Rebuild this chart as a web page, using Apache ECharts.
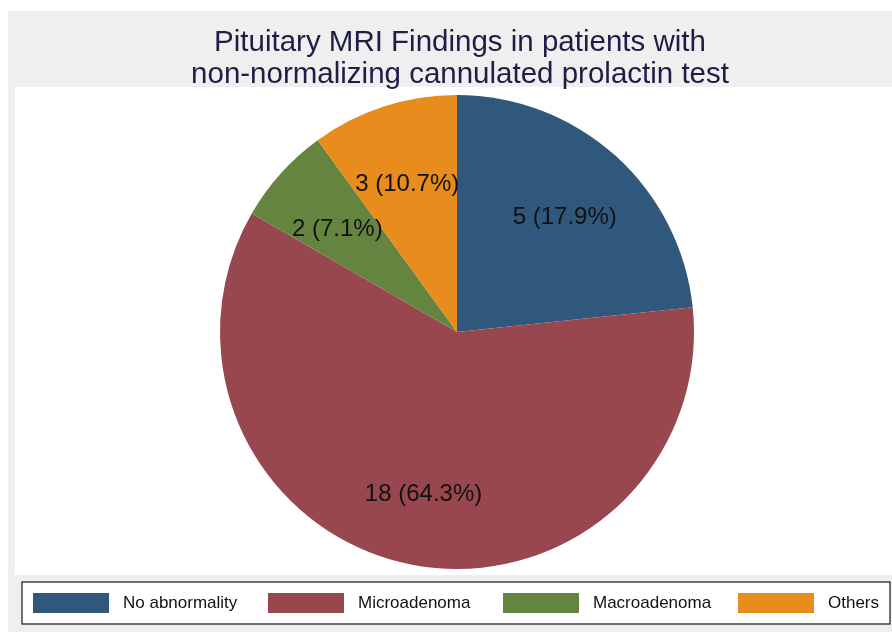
<!DOCTYPE html>
<html>
<head>
<meta charset="utf-8">
<script src="https://cdn.jsdelivr.net/npm/echarts@6/dist/echarts.min.js"></script>
<style>
  html, body { margin: 0; padding: 0; background: #fff; }
  #chart { width: 892px; height: 632px; }
</style>
</head>
<body>
<div id="chart"></div>
<script>
var categories = ['No abnormality', 'Microadenoma', 'Macroadenoma', 'Others'];
// slice sizes as drawn in the picture (angles 84/216/24/36 deg)
var sliceValues = [7, 18, 2, 3];
// numbers printed on the slices
var labelCounts = [5, 18, 2, 3];
var labelPercents = ['17.9', '64.3', '7.1', '10.7'];
var colors = ['#30587d', '#98474e', '#65843f', '#e88c1d'];
var legendLeft = [33, 268, 503, 738];

var chartDom = document.getElementById('chart');
var myChart = echarts.init(chartDom);

var pieData = categories.map(function (c, i) {
    return { name: c, value: sliceValues[i], itemStyle: { color: colors[i] } };
});
var labelData = categories.map(function (c, i) {
    return { name: c, value: sliceValues[i] };
});

// one legend per entry so the columns are evenly spaced like the original
var legends = categories.map(function (c, i) {
    return {
        data: [c],
        left: legendLeft[i],
        top: 593,
        padding: 0,
        itemWidth: 76,
        itemHeight: 20,
        icon: 'rect',
        selectedMode: false,
        textStyle: {
            fontFamily: 'Liberation Sans',
            fontSize: 17,
            color: '#111',
            padding: [0, 0, 0, 9]
        }
    };
});

var option = {
    backgroundColor: '#fff',
    animation: false,
    graphic: [
        // grey outer panel
        { type: 'rect', z: -10, shape: { x: 8, y: 11, width: 884, height: 621 }, style: { fill: '#efefef' } },
        // white plot region
        { type: 'rect', z: -9, shape: { x: 15, y: 87, width: 877, height: 488 }, style: { fill: '#ffffff' } },
        // legend frame
        { type: 'rect', z: -8, shape: { x: 22, y: 582, width: 868, height: 42 }, style: { fill: '#ffffff', stroke: '#444', lineWidth: 1.5 } }
    ],
    title: {
        text: 'Pituitary MRI Findings in patients with\nnon-normalizing cannulated prolactin test',
        left: 455,
        top: 22,
        textAlign: 'center',
        textStyle: {
            fontFamily: 'Liberation Sans',
            fontSize: 29.5,
            fontWeight: 'normal',
            lineHeight: 32,
            color: '#1e1e45'
        }
    },
    legend: legends,
    series: [
        {
            name: 'findings',
            type: 'pie',
            center: [457, 332],
            radius: [0, 237],
            startAngle: 90,
            clockwise: true,
            silent: true,
            label: { show: false },
            labelLine: { show: false },
            itemStyle: { borderWidth: 0 },
            data: pieData
        },
        {
            name: 'labels',
            type: 'pie',
            center: [457, 332],
            radius: [79, 237],
            startAngle: 90,
            clockwise: true,
            silent: true,
            itemStyle: { color: 'rgba(0,0,0,0)', borderWidth: 0 },
            label: {
                show: true,
                position: 'inside',
                fontFamily: 'Liberation Sans',
                fontSize: 24,
                color: '#111',
                formatter: function (p) {
                    return labelCounts[p.dataIndex] + ' (' + labelPercents[p.dataIndex] + '%)';
                }
            },
            labelLayout: { dy: 5 },
            labelLine: { show: false },
            data: labelData
        }
    ]
};
option && myChart.setOption(option);
</script>
</body>
</html>
